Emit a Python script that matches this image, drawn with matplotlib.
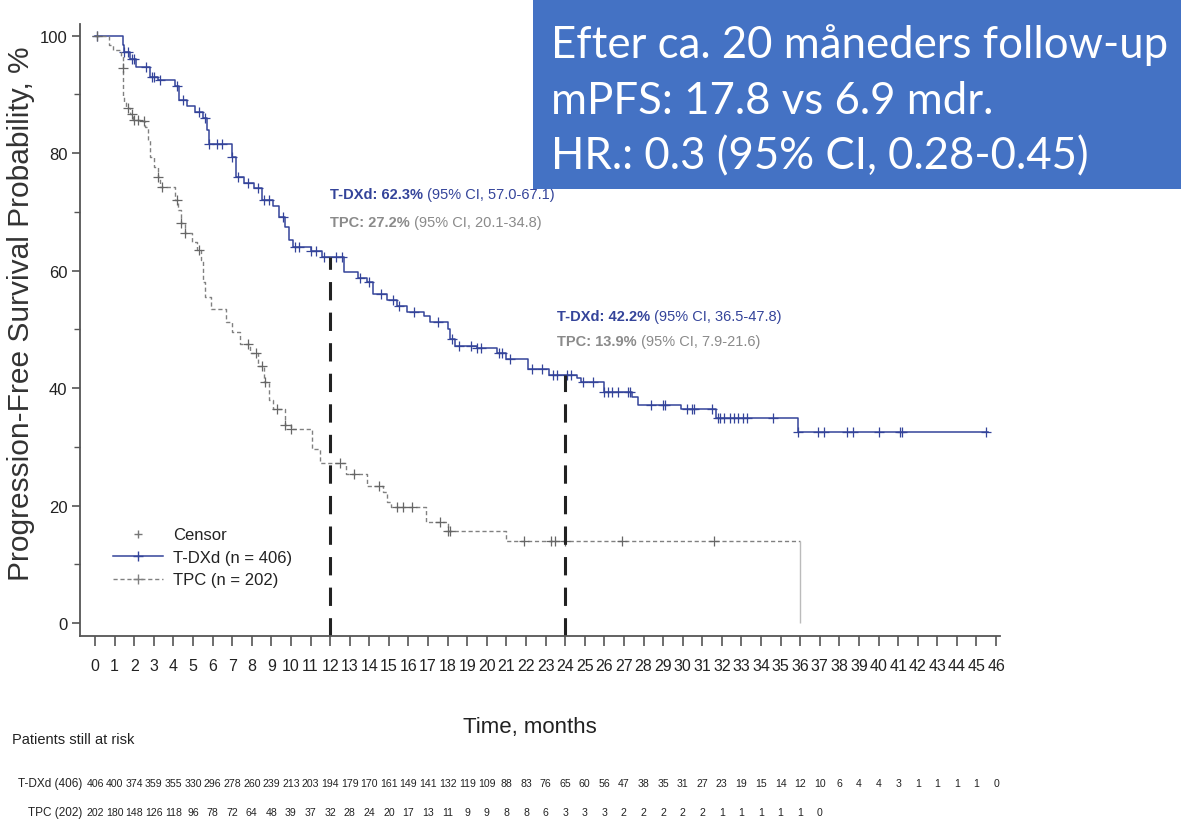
import numpy as np
import matplotlib
matplotlib.use('Agg')
import matplotlib.pyplot as plt
import matplotlib.transforms as mtransforms
from matplotlib.patches import Rectangle
from matplotlib.lines import Line2D

FONT = ['Liberation Sans', 'DejaVu Sans']

# Kaplan-Meier steps (months, %)
tdxd_t = [0, 1.4, 1.5, 1.8, 2.1, 2.8, 3.2, 4.1, 4.3, 4.7, 5.1, 5.5, 5.7, 5.8, 7.0, 7.2, 7.6, 8.1,
          8.5, 9.1, 9.4, 9.7, 9.9, 10.1, 11.0, 11.6, 12.7, 13.4, 13.9, 14.2, 14.9, 15.4, 15.9, 16.8,
          17.1, 18.0, 18.1, 18.4, 19.5, 20.5, 21.0, 22.1, 23.2, 24.6, 24.8, 26.0, 27.4, 27.7, 29.9,
          31.7, 35.9, 45.6]
tdxd_s = [100, 98.5, 97.3, 96, 94.7, 93, 92.5, 91.5, 89, 88, 87, 86, 84, 81.5, 79.3, 76, 75, 74,
          72, 71, 69.2, 67.5, 65.3, 64, 63.3, 62.3, 59.7, 58.8, 58, 56, 55, 54, 53, 52.2,
          51.3, 50, 48.3, 47.2, 46.8, 46, 45, 43.2, 42.2, 41.8, 41, 39.4, 38.5, 37.2, 36.4,
          35, 32.5, 32.5]
tdxd_cens = [0.1, 1.5, 1.7, 1.9, 2.0, 2.6, 2.9, 3.0, 3.3, 4.2, 4.5, 5.3, 5.6, 5.8, 6.2, 6.5, 7.0,
             7.3, 7.8, 8.3, 8.6, 8.9, 9.6, 10.2, 10.4, 11.0, 11.3, 11.7, 12.3, 12.6, 13.5, 14.0,
             14.6, 15.2, 15.5, 16.3, 17.5, 18.2, 18.6, 19.2, 19.5, 19.7, 20.6, 20.8, 21.2, 22.3,
             22.8, 23.4, 23.6, 24.1, 24.3, 24.9, 25.4, 26.0, 26.2, 26.4, 26.7, 27.2, 27.3, 28.4,
             29.0, 29.1, 30.2, 30.5, 30.6, 31.5, 31.8, 31.9, 32.1, 32.4, 32.6, 32.8, 33.1, 33.3,
             34.6, 35.9, 36.9, 37.2, 38.4, 38.7, 40.0, 41.1, 41.2, 45.5]

tpc_t = [0, 0.7, 0.9, 1.3, 1.4, 1.45, 1.5, 1.6, 1.8, 1.95, 2.3, 2.55, 2.7, 2.8, 3.0, 3.2, 3.3,
         4.1, 4.25, 4.4, 4.6, 4.95, 5.2, 5.4, 5.5, 5.6, 5.9, 6.7, 7.0, 7.4, 7.9, 8.3, 8.6, 8.9,
         9.1, 9.7, 10.0, 11.1, 11.5, 12.8, 13.9, 14.7, 14.9, 15.1, 16.9, 18.0, 21.0, 36.0]
tpc_s = [100, 98.5, 97.5, 96.5, 94.5, 89.6, 88.8, 87.7, 86.6, 85.7, 85.4, 84.4, 82.3, 79.4, 77.7,
         76, 74.3, 72.1, 70.4, 68.2, 66.5, 64.8, 63.6, 61.9, 58, 55.6, 53.4, 51.2, 49.5, 47.5,
         46, 43.7, 41, 38, 36.4, 33.8, 33, 29.6, 27.2, 25.3, 23.3, 22.4, 20.7, 19.7, 17.2,
         15.6, 13.9, 0]
tpc_cens = [0.1, 1.4, 1.7, 1.9, 2.0, 2.2, 2.5, 3.2, 3.4, 4.2, 4.4, 4.6, 5.3, 7.8, 8.2, 8.5, 8.7,
            9.3, 9.7, 10.0, 12.5, 13.2, 14.5, 15.4, 15.7, 16.2, 17.6, 18.0, 18.1, 21.9, 23.3,
            23.5, 24.0, 26.9, 31.6]

months = list(range(47))
risk_tdxd = [406, 400, 374, 359, 355, 330, 296, 278, 260, 239, 213, 203, 194, 179, 170, 161, 149,
             141, 132, 119, 109, 88, 83, 76, 65, 60, 56, 47, 38, 35, 31, 27, 23, 19, 15, 14, 12,
             10, 6, 4, 4, 3, 1, 1, 1, 1, 0]
risk_tpc = [202, 180, 148, 126, 118, 96, 78, 72, 64, 48, 39, 37, 32, 28, 24, 20, 17, 13, 11, 9, 9,
            8, 8, 6, 3, 3, 3, 2, 2, 2, 2, 2, 1, 1, 1, 1, 1, 0]

landmarks = [12, 24]
lm_tdxd = [62.3, 42.2]

blue = '#34449a'
grey = '#808080'


def step_at(ts, ss, x):
    i = np.searchsorted(ts, x, side='right') - 1
    return np.array(ss)[i]


fig = plt.figure(figsize=(11.81, 8.29), dpi=100)
ax = fig.add_axes([80 / 1181, 192 / 829, 920 / 1181, 612 / 829])
ax.set_xlim(-0.77, 46.2)
ax.set_ylim(-2.2, 102)

ax.plot(tdxd_t, tdxd_s, drawstyle='steps-post', color=blue, lw=1.1)
ax.plot(tdxd_cens, step_at(tdxd_t, tdxd_s, tdxd_cens), ls='none', marker='+', ms=7,
        mew=0.9, color=blue)
# TPC: dashed up to the last time, then a thin solid drop
tpc_line = tpc_s[:-1] + [tpc_s[-2]]
ax.plot(tpc_t, tpc_line, drawstyle='steps-post', color=grey, lw=1.0, ls=(0, (3, 2)))
ax.vlines(tpc_t[-1], tpc_s[-1], tpc_s[-2], color='#bbbbbb', lw=1.0)
ax.plot(tpc_cens, step_at(tpc_t, tpc_s, tpc_cens), ls='none', marker='+', ms=7,
        mew=0.9, color='#666666')

ax.vlines(landmarks, -2.2, lm_tdxd, colors='#222222', lw=2.2, linestyles=(0, (6, 4)))

for sp in ['top', 'right']:
    ax.spines[sp].set_visible(False)
for sp in ['left', 'bottom']:
    ax.spines[sp].set_color('#555555')
    ax.spines[sp].set_linewidth(1.3)

ax.set_xticks(months)
ax.set_xticklabels([str(m) for m in months], fontfamily=FONT, fontsize=11.5, color='#222222')
ax.set_yticks([0, 20, 40, 60, 80, 100])
ax.set_yticks([10, 30, 50, 70, 90], minor=True)
ax.set_yticklabels(['0', '20', '40', '60', '80', '100'], fontfamily=FONT, fontsize=12,
                   color='#222222')
ax.tick_params(axis='x', length=7, width=1.2, color='#555555', pad=9)
ax.tick_params(axis='y', length=6, width=1.2, color='#555555', pad=3)
ax.tick_params(axis='y', which='minor', length=4, width=1.0, color='#555555')

fig.text(21 / 1181, 1 - 314 / 829, 'Progression-Free Survival Probability, %', fontfamily=FONT,
         fontsize=21.5, color='#333333', rotation=90, ha='center', va='center')
fig.text(530 / 1181, 1 - 728 / 829, 'Time, months', fontfamily=FONT, fontsize=16,
         color='#222222', ha='center', va='center')

# landmark annotations
ann = [(12.0, 73.0, 'T-DXd: 62.3%', ' (95% CI, 57.0-67.1)', blue),
       (12.0, 68.3, 'TPC: 27.2%', ' (95% CI, 20.1-34.8)', '#8a8a8a'),
       (23.6, 52.3, 'T-DXd: 42.2%', ' (95% CI, 36.5-47.8)', blue),
       (23.6, 48.0, 'TPC: 13.9%', ' (95% CI, 7.9-21.6)', '#8a8a8a')]
for x, y, b, r, c in ann:
    t1 = ax.text(x, y, b, fontfamily=FONT, fontsize=10.5, fontweight='bold', color=c,
                 va='center', ha='left')
    ax.annotate(r, xy=(1, 0), xycoords=t1, fontfamily=FONT, fontsize=10.5, color=c,
                va='bottom', ha='left')

# legend
handles = [Line2D([], [], ls='none', marker='+', ms=6, color='#777777'),
           Line2D([], [], color=blue, lw=1.1, marker='+', ms=7),
           Line2D([], [], color=grey, lw=1.0, ls=(0, (3, 2)), marker='+', ms=7)]
leg = ax.legend(handles, ['Censor', 'T-DXd (n = 406)', 'TPC (n = 202)'], loc='lower left',
                bbox_to_anchor=(0.02, 0.055), frameon=False, handlelength=3.0,
                handletextpad=0.6, labelspacing=0.45, prop={'family': FONT, 'size': 12})
for t in leg.get_texts():
    t.set_color('#222222')

# number at risk
fig.text(12 / 1181, 1 - 740 / 829, 'Patients still at risk', fontfamily=FONT, fontsize=10.5,
         color='#222222', va='center')
row_tr = mtransforms.blended_transform_factory(ax.transData, fig.transFigure)
rows = [('T-DXd (406)', risk_tdxd, 1 - 784 / 829), ('TPC (202)', risk_tpc, 1 - 813 / 829)]
for lab, vals, yf in rows:
    fig.text(82 / 1181, yf, lab, fontfamily=FONT, fontsize=8.5, color='#222222',
             ha='right', va='center')
    for m, v in zip(months, vals):
        ax.text(m, yf, str(v), transform=row_tr, fontfamily=FONT, fontsize=7.6,
                color='#222222', ha='center', va='center', clip_on=False)

# summary box
fig.patches.append(Rectangle((533 / 1181, 1 - 190 / 829), 1 - 533 / 1181, 190 / 829,
                             transform=fig.transFigure, facecolor='#4472c4', edgecolor='none',
                             zorder=5))
box_lines = ['Efter ca. 20 måneders follow-up', 'mPFS: 17.8 vs 6.9 mdr.',
             'HR.: 0.3 (95% CI, 0.28-0.45)']
for i, s in enumerate(box_lines):
    fig.text(551 / 1181, 1 - (45 + 56 * i) / 829, s, fontfamily=['Lato', 'DejaVu Sans'],
             fontsize=31.5, color='white', va='center', ha='left', zorder=6)

plt.savefig('out.png', dpi=100)
